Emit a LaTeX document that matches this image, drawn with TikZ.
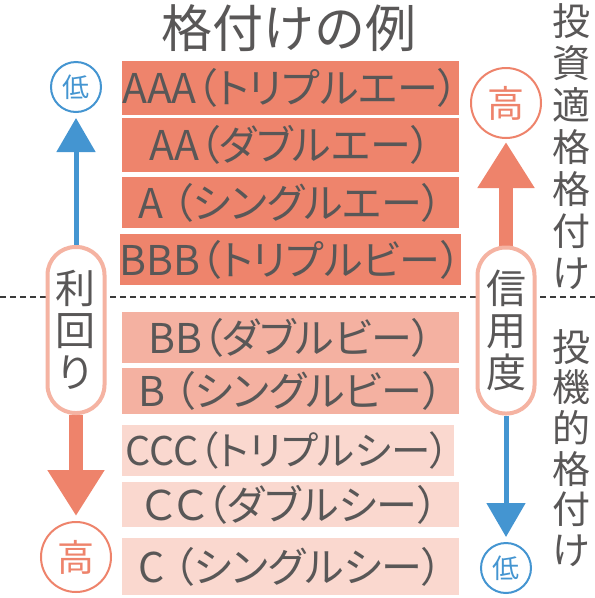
\documentclass[tikz,border=0pt]{standalone}
\usepackage{fontspec}
\setmainfont{Noto Sans CJK JP}
\newfontfamily\jpp{Noto Sans CJK JP}[RawFeature=+palt]
\usetikzlibrary{arrows.meta}
\definecolor{salA}{HTML}{EE846C}
\definecolor{salB}{HTML}{F4B1A1}
\definecolor{salC}{HTML}{FAD8CF}
\definecolor{pillc}{HTML}{F5B3A2}
\definecolor{bluec}{HTML}{4495D1}
\definecolor{redc}{HTML}{EE836B}
\definecolor{txt}{HTML}{595757}
\definecolor{dashc}{HTML}{3A3A3A}
\pgfdeclarelayer{bg}
\pgfsetlayers{bg,main}
\begin{document}
\begin{tikzpicture}[x=1pt,y=-1pt,
  box/.style={rectangle, inner sep=0pt, minimum width=337pt, text=txt,
    font=\jpp\fontsize{41}{44}\selectfont},
  pill/.style={rectangle, rounded corners=28pt, draw=pillc, line width=4pt, fill=white,
    minimum width=57pt, minimum height=166pt, inner sep=0pt, text=txt, align=center,
    font=\fontsize{40}{42}\selectfont},
  bcirc/.style={circle, draw=bluec, line width=2pt, minimum size=50pt, inner sep=0pt,
    text=bluec, font=\fontsize{27}{30}\selectfont},
  rcirc/.style={circle, draw=redc, line width=2pt, minimum size=70pt, inner sep=0pt,
    text=redc, font=\fontsize{37}{40}\selectfont},
  vcol/.style={inner sep=0pt, text=txt, align=center},
  barrow/.style={draw=bluec, line width=5pt, -{Triangle[length=34pt,width=38pt]}},
  rarrow/.style={draw=redc, line width=14pt, -{Triangle[length=46pt,width=54pt]}},
  dline/.style={draw=dashc, line width=2.5pt, dash pattern=on 6pt off 4pt}
]
\useasboundingbox (0,0) rectangle (595,598);

% title
\node[text=txt, font=\fontsize{51}{53}\selectfont, inner sep=0pt] (title) at (289,28) {格付けの例};

% rating boxes
\node[box, fill=salA, minimum height=54pt] (b1) at (290.5,88) {AAA（トリプルエー）};
\node[box, fill=salA, minimum height=54pt] (b2) at (290.5,145) {AA（ダブルエー）};
\node[box, fill=salA, minimum height=51pt] (b3) at (290.5,202.5) {A （シングルエー）};
\node[box, fill=salA, minimum height=51pt] (b4) at (290.5,259.5) {BBB（トリプルビー）};
\node[box, fill=salB, minimum height=51pt] (b5) at (290.5,337.5) {BB（ダブルビー）};
\node[box, fill=salB, minimum height=46pt] (b6) at (290.5,391) {B （シングルビー）};
\node[box, fill=salC, minimum height=51pt, minimum width=332pt,
  font=\jpp\fontsize{39.5}{44}\selectfont] (b7) at (288,450.5) {CCC（トリプルシー）};
\node[box, fill=salC, minimum height=45pt] (b8) at (290.5,504.5) {ＣＣ（ダブルシー）};
\node[box, fill=salC, minimum height=57pt] (b9) at (290.5,566.5) {C （シングルシー）};

% pills
\node[pill] (lp) at (76,330) {利\\回\\り};
\node[pill] (rp) at (506,330.5) {信\\用\\度};

% circles
\node[bcirc] (lowL) at (76,87) {低};
\node[rcirc] (highL) at (76,557) {高};
\node[rcirc] (highR) at (506,103) {高};
\node[bcirc] (lowR) at (506,568) {低};

% vertical labels
\node[vcol, font=\fontsize{38}{42}\selectfont] (inv) at (571,147) {投\\資\\適\\格\\格\\付\\け};
\node[vcol, font=\fontsize{38}{40.6}\selectfont] (spec) at (571,448) {投\\機\\的\\格\\付\\け};

\coordinate (dl) at (0,297);
\coordinate (dr) at (595,297);

\begin{pgfonlayer}{bg}
  \fill[white] (0,0) rectangle (595,598);
  \draw[dline] (dl) -- (dr);
  \draw[barrow, shorten >=5pt] (lp.north) -- (lowL.south);
  \draw[rarrow, shorten >=5pt] (lp.south) -- (highL.north);
  \draw[rarrow, shorten >=3pt] (rp.north) -- (highR.south);
  \draw[barrow, shorten >=5pt] (rp.south) -- (lowR.north);
\end{pgfonlayer}
\end{tikzpicture}
\end{document}
